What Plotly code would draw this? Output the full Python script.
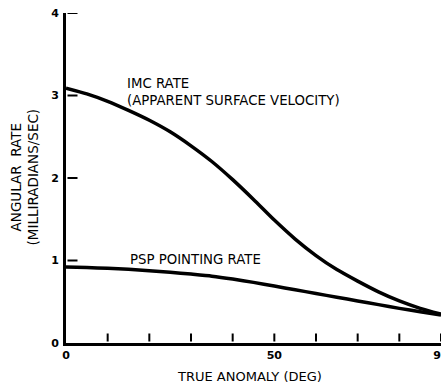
import plotly.graph_objects as go

# True anomaly (deg) sampled every 5 degrees
anomaly_deg = [0, 5, 10, 15, 20, 25, 30, 35, 40, 45, 50, 55, 60, 65, 70, 75, 80, 85, 90]

# IMC rate (apparent surface velocity), milliradians/sec
imc_rate = [3.09, 3.02, 2.93, 2.82, 2.70, 2.56, 2.39, 2.20, 1.98, 1.74, 1.49, 1.26,
            1.06, 0.89, 0.75, 0.62, 0.51, 0.42, 0.35]

# PSP pointing rate, milliradians/sec
psp_rate = [0.92, 0.915, 0.905, 0.893, 0.877, 0.858, 0.835, 0.81, 0.775, 0.735, 0.69, 0.645,
            0.60, 0.555, 0.51, 0.465, 0.42, 0.38, 0.34]

x_tickvals = [0, 10, 20, 30, 40, 50, 60, 70, 80, 90]
x_ticktext = ["0", "", "", "", "", "50", "", "", "", "90"]
y_tickvals = [0, 1, 2, 3, 4]
y_ticktext = ["0", "1", "2", "3", "4"]

FONT = "DejaVu Sans"
TICKFONT = dict(family=FONT, size=11, color="black", weight="bold")

fig = go.Figure()
for series in (imc_rate, psp_rate):
    fig.add_trace(go.Scatter(
        x=anomaly_deg, y=series, mode="lines",
        line=dict(color="black", width=3.5, shape="spline", smoothing=0.6),
        showlegend=False, hoverinfo="skip",
    ))

# Short inward tick marks, anchored to the axis lines with pixel lengths
tick_line = dict(color="black", width=2)
for v in x_tickvals[1:]:
    fig.add_shape(type="line", xref="x", yref="paper", x0=v, x1=v,
                  ysizemode="pixel", yanchor=0, y0=1.5, y1=9.5, line=tick_line)
for v in y_tickvals[1:]:
    fig.add_shape(type="line", yref="y", xref="paper", y0=v, y1=v,
                  xsizemode="pixel", xanchor=0, x0=1.5, x1=11.5, line=tick_line)

axis_common = dict(
    ticks="", showline=True, linewidth=3, linecolor="black",
    showgrid=False, zeroline=False, fixedrange=True, automargin=False,
    tickfont=TICKFONT, ticklabeloverflow="allow",
)

fig.update_layout(
    template="none",
    width=441, height=384,
    margin=dict(l=66, r=0, t=13, b=41, autoexpand=False),
    paper_bgcolor="white", plot_bgcolor="white",
    font=dict(family=FONT, size=13, color="black"),
    xaxis=dict(range=[0, 90], tickvals=x_tickvals, ticktext=x_ticktext, **axis_common),
    yaxis=dict(range=[0, 4], tickvals=y_tickvals, ticktext=y_ticktext,
               ticklabelstandoff=2, **axis_common),
    annotations=[
        dict(text="TRUE ANOMALY (DEG)", xref="paper", yref="paper",
             x=(249 - 66) / 375, y=-33 / 330, xanchor="center", yanchor="middle",
             showarrow=False, font=dict(size=13)),
        dict(text="ANGULAR  RATE<br>(MILLIRADIANS/SEC)", xref="paper", yref="paper",
             x=-42 / 375, y=(342.5 - 177) / 330, xanchor="center", yanchor="middle",
             textangle=-90, showarrow=False, font=dict(size=13.5)),
        dict(text="IMC RATE<br>(APPARENT SURFACE VELOCITY)", xref="paper", yref="paper",
             x=(125 - 66) / 375, y=(342.5 - 91) / 330, xanchor="left", yanchor="middle",
             align="left", showarrow=False, font=dict(size=13.3)),
        dict(text="PSP POINTING RATE", xref="paper", yref="paper",
             x=(128 - 66) / 375, y=(342.5 - 259) / 330, xanchor="left", yanchor="middle",
             showarrow=False, font=dict(size=13.3)),
    ],
)

fig.write_html("out.html")
